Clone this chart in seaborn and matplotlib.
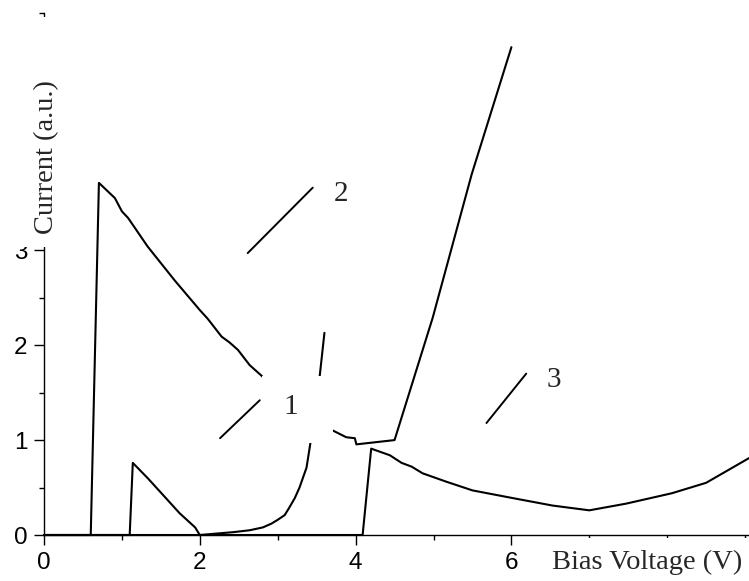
import matplotlib
matplotlib.use("Agg")
import matplotlib.pyplot as plt
from matplotlib.patches import Rectangle
from matplotlib.ticker import MultipleLocator
import seaborn as sns

# curve 1
v1 = [0, 1.1, 1.14, 1.33, 1.53, 1.74, 1.94, 2.0, 2.43, 2.64, 2.81, 2.92, 3.0, 3.09, 3.15,
      3.22, 3.28, 3.37, 3.42, 3.48, 3.54, 3.60]
i1 = [0, 0, 0.76, 0.6, 0.42, 0.23, 0.08, 0.0, 0.03, 0.05, 0.08, 0.12, 0.16, 0.21, 0.29,
      0.39, 0.5, 0.71, 0.97, 1.3, 1.68, 2.13]

# curve 2
v2 = [0, 0.6, 0.705, 0.91, 1.0, 1.08, 1.33, 1.68, 2.0, 2.1, 2.28, 2.38, 2.49, 2.64, 2.79,
      3.0, 3.3, 3.55, 3.71, 3.88, 3.99, 4.01, 4.5, 4.99, 5.49, 6.0]
i2 = [0, 0, 3.71, 3.55, 3.41, 3.34, 3.04, 2.68, 2.37, 2.28, 2.09, 2.03, 1.95, 1.79, 1.68,
      1.5, 1.3, 1.18, 1.10, 1.03, 1.02, 0.955, 1.0, 2.29, 3.8, 5.14]

# curve 3
v3 = [0, 4.09, 4.2, 4.44, 4.59, 4.72, 4.86, 5.17, 5.5, 6.01, 6.53, 7.0, 7.47, 8.06, 8.5, 9.05]
i3 = [0, 0, 0.91, 0.84, 0.76, 0.72, 0.65, 0.56, 0.47, 0.39, 0.31, 0.26, 0.33, 0.44, 0.55, 0.81]

curves = [(v1, i1), (v2, i2), (v3, i3)]

# tick labels (8, 4 and 5 sit under the axis-label boxes in the original)
xticks = [0, 2, 4, 6, 8]
xticklabels = ["0", "2", "4", "6", ""]
yticks = [0, 1, 2, 3, 4, 5]
yticklabels = ["0", "1", "2", "3", "", ""]

sns.set_theme(style="ticks")
plt.rcParams["font.family"] = ["Liberation Sans", "DejaVu Sans"]
serif = ["Liberation Serif", "DejaVu Serif"]

fig = plt.figure(figsize=(7.49, 5.81), dpi=100)
ax = fig.add_axes([44 / 749, 46 / 581, 705 / 749, 522 / 581])

for v, i in curves:
    sns.lineplot(x=v, y=i, ax=ax, color="black", linewidth=1.5,
                 sort=False, estimator=None, clip_on=False, zorder=2)

ax.set_xlim(0, 9.05)
ax.set_ylim(0, 5.5)
ax.set_xticks(xticks, xticklabels)
ax.set_yticks(yticks, yticklabels)
ax.xaxis.set_minor_locator(MultipleLocator(1))
ax.yaxis.set_minor_locator(MultipleLocator(0.5))
ax.tick_params(which="major", direction="out", length=7, width=1, color="black",
               labelsize=17.5, labelcolor="black", pad=5)
ax.tick_params(which="minor", direction="out", length=3.5, width=1, color="black")
sns.despine(ax=ax)
for s in ("left", "bottom"):
    ax.spines[s].set_color("black")
    ax.spines[s].set_linewidth(1)
ax.set_xlabel("")
ax.set_ylabel("")

# white label boxes covering part of the axes
ax.add_patch(Rectangle((-0.07, 0.5517), 0.0955, 0.4405, transform=ax.transAxes,
                       facecolor="white", edgecolor="none", clip_on=False, zorder=5))
ax.add_patch(Rectangle((0.682, -0.13), 0.33, 0.125, transform=ax.transAxes,
                       facecolor="white", edgecolor="none", clip_on=False, zorder=5))
ax.add_patch(Rectangle((2.795, 0.965), 0.91, 0.715,
                       facecolor="white", edgecolor="none", zorder=3))

ax.text(0.004, 0.724, "Current (a.u.)", transform=ax.transAxes, rotation=90,
        ha="center", va="center", fontsize=20.5, family=serif, zorder=6, clip_on=False)
ax.text(0.855, -0.053, "Bias Voltage (V)", transform=ax.transAxes,
        ha="center", va="center", fontsize=20.5, family=serif, zorder=6, clip_on=False)

# curve labels with leader lines
labels = [("1", (2.26, 1.02), (2.77, 1.42), (3.17, 1.35)),
          ("2", (2.615, 2.97), (3.45, 3.66), (3.81, 3.59)),
          ("3", (5.68, 1.18), (6.19, 1.70), (6.55, 1.63))]
for txt, p0, p1, pt in labels:
    ax.annotate("", xy=p0, xytext=p1,
                arrowprops=dict(arrowstyle="-", color="black", lw=1.4,
                                shrinkA=0, shrinkB=0), zorder=4)
    ax.text(pt[0], pt[1], txt, ha="center", va="center", fontsize=21,
            family=serif, zorder=4)

fig.savefig("out.png", dpi=100)
